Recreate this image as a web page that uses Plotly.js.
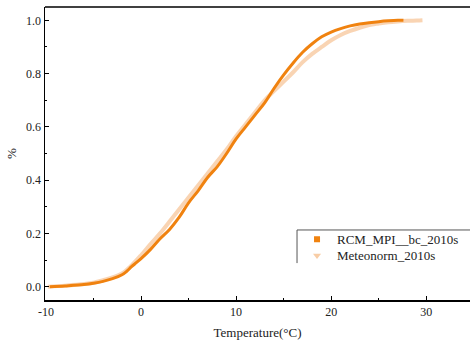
<!DOCTYPE html>
<html>
<head>
<meta charset="utf-8">
<script src="https://cdn.plot.ly/plotly-3.0.1.min.js"></script>
<style>html,body{margin:0;padding:0;background:#fff;font-family:"Liberation Serif",serif;}#chart{width:470px;height:347px;}#fl{position:absolute;left:0;top:0;font-family:"Liberation Serif";font-size:2px;color:#fff;}</style>
</head>
<body>
<span id="fl">&nbsp;0&nbsp;</span>
<div id="chart"></div>
<script>
// RCM_MPI__bc_2010s cumulative distribution
const rcmTemp = [-9.6, -8, -6, -5, -4, -3, -2, -1.5, -1, -0.5, 0, 1, 2, 3, 4, 5, 6, 7, 8, 9, 10, 11, 12, 13, 14, 15, 16, 17, 18, 19, 20, 21, 22, 23, 24, 25, 26, 27, 27.6];
const rcmCdf  = [0.0, 0.003, 0.008, 0.013, 0.02, 0.03, 0.045, 0.058, 0.075, 0.09, 0.105, 0.14, 0.18, 0.215, 0.26, 0.315, 0.36, 0.41, 0.45, 0.50, 0.555, 0.60, 0.645, 0.69, 0.745, 0.795, 0.84, 0.88, 0.912, 0.938, 0.956, 0.969, 0.979, 0.986, 0.991, 0.995, 0.998, 1.0, 1.0];
// Meteonorm_2010s cumulative distribution
const metTemp = [-9.8, -8, -6, -5, -4, -3, -2, -1, 0, 1, 2, 3, 4, 5, 6, 7, 8, 9, 10, 11, 12, 13, 14, 15, 16, 17, 18, 19, 20, 21, 22, 23, 24, 25, 26, 27, 28, 29, 29.6];
const metCdf  = [0.0, 0.004, 0.01, 0.015, 0.024, 0.035, 0.05, 0.08, 0.118, 0.16, 0.2, 0.245, 0.29, 0.335, 0.38, 0.425, 0.47, 0.515, 0.565, 0.61, 0.655, 0.70, 0.735, 0.77, 0.805, 0.843, 0.874, 0.90, 0.925, 0.945, 0.96, 0.972, 0.982, 0.988, 0.993, 0.996, 0.998, 0.999, 1.0];
const seriesNames = ["RCM_MPI__bc_2010s", "Meteonorm_2010s"];
const xTicks = [-10, 0, 10, 20, 30];
const yTicks = [0.0, 0.2, 0.4, 0.6, 0.8, 1.0];

const cRcm = "#F0820F";
const cMet = "#F8CDA6";
const FF = "Liberation Serif";

const traces = [
  {x: metTemp, y: metCdf, mode: "lines", line: {color: cMet, width: 4, shape: "spline"}, opacity: 0.85, showlegend: false, hoverinfo: "skip"},
  {x: rcmTemp, y: rcmCdf, mode: "lines", line: {color: cRcm, width: 3, shape: "spline"}, showlegend: false, hoverinfo: "skip"},
  {x: [null], y: [null], mode: "markers", name: seriesNames[0], legend: "legend", marker: {symbol: "square", size: 6, color: cRcm}},
  {x: [null], y: [null], mode: "markers", name: seriesNames[1], legend: "legend2", marker: {symbol: "triangle-down", size: 7, color: cMet}}
];

function legendAt(yPos) {
  return {
    x: 0.593, y: yPos, xanchor: "left", yanchor: "middle",
    bgcolor: "rgba(0,0,0,0)", borderwidth: 0,
    font: {family: FF, size: 13, color: "#222"},
    itemwidth: 30
  };
}

const layout = {
  width: 470, height: 347,
  margin: {l: 45, r: 0, t: 7, b: 47},
  paper_bgcolor: "#fff", plot_bgcolor: "#fff",
  font: {family: FF, size: 12, color: "#222"},
  xaxis: {
    range: [-10.1, 34.6], tickvals: xTicks, ticktext: xTicks.map(String),
    ticks: "inside", ticklen: 4, tickwidth: 1, tickcolor: "#000",
    minor: {dtick: 5, ticks: "inside", ticklen: 2, tickcolor: "#000", showgrid: false},
    showline: true, linecolor: "#000", linewidth: 1.5, showgrid: false, zeroline: false,
    tickfont: {family: FF, size: 12, color: "#222"},
    title: {text: "Temperature(°C)", font: {family: FF, size: 13, color: "#222"}, standoff: 10}
  },
  yaxis: {
    range: [-0.05, 1.05], tickvals: yTicks, ticktext: yTicks.map(v => v.toFixed(1)),
    ticks: "inside", ticklen: 4, tickwidth: 1, tickcolor: "#000",
    minor: {dtick: 0.1, ticks: "inside", ticklen: 2, tickcolor: "#000", showgrid: false},
    showline: true, linecolor: "#000", linewidth: 1.5, showgrid: false, zeroline: false,
    tickfont: {family: FF, size: 12, color: "#222"},
    title: {text: "%", font: {family: FF, size: 13, color: "#222"}, standoff: 6}
  },
  legend: legendAt(0.207),
  legend2: legendAt(0.152),
  shapes: [
    {type: "line", xref: "paper", yref: "paper", x0: 0, x1: 1, y0: 1, y1: 1, line: {color: "#000", width: 1.5}},
    {type: "line", xref: "paper", yref: "paper", x0: 0.593, x1: 1, y0: 0.239, y1: 0.239, line: {color: "#555", width: 1}},
    {type: "line", xref: "paper", yref: "paper", x0: 0.593, x1: 0.593, y0: 0.239, y1: 0.126, line: {color: "#555", width: 1}}
  ]
};

Plotly.newPlot("chart", traces, layout, {displayModeBar: false, staticPlot: true});
</script>
</body>
</html>
